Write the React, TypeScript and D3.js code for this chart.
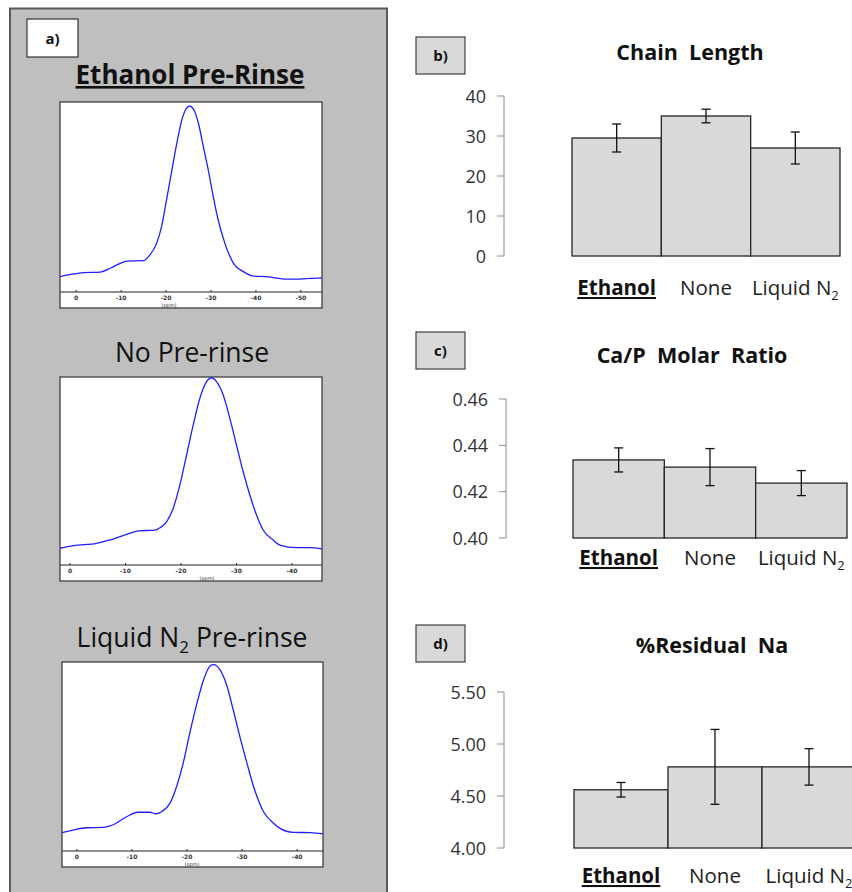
import React from 'react';
import * as d3 from 'd3';

// bar chart data
const categories = ['Ethanol', 'None', 'Liquid N2'];
const chainLength = [29.5, 35.0, 27.0];
const chainErr = [3.5, 1.7, 4.0];
const chainTicks = [0, 10, 20, 30, 40];
const caPRatio = [0.4337, 0.4306, 0.4237];
const caPErr = [0.0052, 0.008, 0.0054];
const caPTicks = [0.4, 0.42, 0.44, 0.46];
const residualNa = [4.56, 4.78, 4.78];
const naErr = [0.07, 0.36, 0.175];
const naTicks = [4.0, 4.5, 5.0, 5.5];

// 31P NMR spectra (ppm, relative intensity in % of plot height)
const spec1Ppm = [3.6, 0.6, -1.6, -5.3, -7.6, -9.8, -11.3, -15, -16.4, -17.9, -19, -20.1, -21.3, -22.4, -23.5, -24.4, -25.2, -26.1, -27.2, -28.3, -29.4, -30.5, -31.6, -33.1, -35, -37.2, -39.4, -42.4, -46.8, -49.8, -52, -55];
const spec1Int = [8.1, 9.5, 10.2, 10.5, 12.5, 15.1, 16.3, 16.5, 19.5, 25.6, 34.4, 48.4, 64.2, 78.3, 90.5, 96.2, 97.9, 96.2, 88.8, 76.5, 64.2, 50.2, 37.9, 25.6, 15.1, 10.7, 8.4, 8.1, 6.8, 6.8, 7.2, 7.5];
const spec1Ticks = [0, -10, -20, -30, -40, -50];

const spec2Ppm = [1.8, -0.6, -4.8, -7.2, -10.2, -12.3, -15.3, -16.2, -17.4, -18.6, -19.8, -21, -22.2, -23.4, -24.6, -25.5, -26.4, -27.6, -28.8, -30, -31.2, -32.4, -33.6, -34.8, -36.6, -37.8, -40.8, -43.2, -45.6];
const spec2Int = [8.9, 10.3, 11.5, 13.3, 16.3, 18.2, 18.5, 19.8, 23.0, 30.2, 42.6, 58.5, 74.5, 88.7, 97.5, 99.6, 97.5, 90.4, 78.0, 63.8, 49.6, 37.2, 26.6, 18.6, 13.3, 10.6, 9.2, 9.2, 8.5];
const spec2Ticks = [0, -10, -20, -30, -40];

const spec3Ppm = [3.1, 0.7, -1.8, -4.8, -6.6, -9.0, -11.1, -13.3, -14.2, -15.4, -16.9, -18.1, -19.3, -20.5, -21.8, -23.0, -24.2, -24.9, -26.0, -27.2, -28.4, -29.6, -30.9, -32.1, -33.9, -35.7, -36.9, -39.3, -42.4, -44.8];
const spec3Int = [9.4, 11.1, 12.3, 12.5, 13.9, 18.1, 20.5, 20.5, 19.7, 20.8, 25.2, 34.0, 46.4, 62.3, 78.1, 90.5, 97.9, 98.6, 95.8, 87.8, 74.6, 60.5, 46.4, 34.0, 20.8, 14.7, 12.0, 9.9, 9.7, 9.0];
const spec3Ticks = [0, -10, -20, -30, -40];

const FONT = '"Open Sans", Lato, sans-serif';

const Spectrum = ({ ppm, inten, ticks, domain, x0, x1, top, axisY, bottom, ppmLabelX }) => {
    const x = d3.scaleLinear().domain(domain).range([x0, x1]);
    const y = d3.scaleLinear().domain([0, 100]).range([axisY, top]);
    const line = d3.line()
        .x((d) => x(d[0]))
        .y((d) => y(d[1]))
        .curve(d3.curveMonotoneX);
    const pts = ppm.map((p, i) => [p, inten[i]]);
    return (
        <g>
            <rect x={x0} y={top} width={x1 - x0} height={bottom - top} fill="#fff" stroke="#333" strokeWidth={1.2} />
            <clipPath id={`clip${top}`}>
                <rect x={x0} y={top} width={x1 - x0} height={axisY - top} />
            </clipPath>
            <path d={line(pts)} fill="none" stroke="#1f1fff" strokeWidth={1.3} clipPath={`url(#clip${top})`} />
            <line x1={x0} x2={x1} y1={axisY} y2={axisY} stroke="#222" strokeWidth={1.2} />
            {ticks.map((t) => (
                <g key={t}>
                    <line x1={x(t)} x2={x(t)} y1={axisY} y2={axisY - 2} stroke="#222" strokeWidth={1} />
                    <text x={x(t)} y={axisY + 7.5} fontSize={6} fontWeight="bold" fontFamily="DejaVu Sans, sans-serif" textAnchor="middle" fill="#333">{t}</text>
                </g>
            ))}
            <text x={ppmLabelX} y={axisY + 14.5} fontSize={5} fontFamily="DejaVu Sans, sans-serif" textAnchor="middle" fill="#333">(ppm)</text>
        </g>
    );
};

const CatLabel = ({ name, x, y }) => {
    if (name === 'Ethanol') {
        return (
            <text x={x} y={y} fontSize={20.5} fontWeight="bold" textAnchor="middle" fill="#111" style={{ textDecoration: 'underline' }}>{name}</text>
        );
    }
    if (name === 'Liquid N2') {
        return (
            <text x={x} y={y} fontSize={20.5} textAnchor="middle" fill="#222">
                Liquid N<tspan fontSize={13} dy={5}>2</tspan>
            </text>
        );
    }
    return <text x={x} y={y} fontSize={20.5} textAnchor="middle" fill="#222">{name}</text>;
};

const BarPanel = ({ label, labelY, title, titleX, titleY, values, errors, ticks, fmt, domain, bx0, bx1, yTop, yBottom, axisX, catY }) => {
    const x = d3.scaleBand().domain(categories).range([bx0, bx1]).padding(0);
    const y = d3.scaleLinear().domain(domain).range([yBottom, yTop]);
    return (
        <g fontFamily={FONT}>
            <rect x={416} y={labelY} width={49} height={37} fill="#d9d9d9" stroke="#404040" strokeWidth={1.2} />
            <text x={440.5} y={labelY + 24} fontSize={15} fontWeight="bold" textAnchor="middle" fill="#111">{label}</text>
            <text x={titleX} y={titleY} fontSize={21.5} fontWeight="bold" textAnchor="middle" fill="#111" style={{ whiteSpace: 'pre' }}>{title}</text>
            <line x1={axisX} x2={axisX} y1={y(domain[0])} y2={y(domain[1])} stroke="#8c8c8c" strokeWidth={1} />
            {ticks.map((t) => (
                <g key={t}>
                    <line x1={axisX - 7} x2={axisX} y1={y(t)} y2={y(t)} stroke="#8c8c8c" strokeWidth={1} />
                    <text x={axisX - 18} y={y(t) + 6.5} fontSize={18} textAnchor="end" fill="#333">{fmt(t)}</text>
                </g>
            ))}
            {categories.map((c, i) => (
                <rect key={c} x={x(c)} y={y(values[i])} width={x.bandwidth()} height={y(domain[0]) - y(values[i])}
                    fill="#d9d9d9" stroke="#262626" strokeWidth={1.3} />
            ))}
            {categories.map((c, i) => {
                const cx = x(c) + x.bandwidth() / 2;
                const hi = y(values[i] + errors[i]);
                const lo = y(values[i] - errors[i]);
                return (
                    <g key={c} stroke="#111" strokeWidth={1.3}>
                        <line x1={cx} x2={cx} y1={hi} y2={lo} />
                        <line x1={cx - 4.5} x2={cx + 4.5} y1={hi} y2={hi} />
                        <line x1={cx - 4.5} x2={cx + 4.5} y1={lo} y2={lo} />
                    </g>
                );
            })}
            {categories.map((c) => (
                <CatLabel key={c} name={c} x={x(c) + x.bandwidth() / 2} y={catY} />
            ))}
        </g>
    );
};

const App = () => {
    const f0 = d3.format('d');
    const f2 = d3.format('.2f');
    return (
        <svg width={852} height={892} style={{ position: 'absolute', left: 0, top: 0, background: '#fff' }}>
            {/* panel a */}
            <rect x={10} y={8.5} width={377} height={900} fill="#bfbfbf" stroke="#5a5a5a" strokeWidth={2} />
            <rect x={27} y={19} width={51} height={38} fill="#fff" stroke="#333" strokeWidth={1.2} />
            <text x={52.5} y={44} fontSize={15} fontWeight="bold" fontFamily={FONT} textAnchor="middle" fill="#111">a)</text>
            <text x={190} y={84} fontSize={26} fontWeight="bold" fontFamily={FONT} textAnchor="middle" fill="#111" style={{ textDecoration: 'underline' }}>Ethanol Pre-Rinse</text>
            <Spectrum ppm={spec1Ppm} inten={spec1Int} ticks={spec1Ticks} domain={[3.6, -54.7]} x0={60} x1={322} top={102} axisY={292} bottom={308} ppmLabelX={169} />
            <text x={192} y={362} fontSize={26.5} fontFamily={FONT} textAnchor="middle" fill="#111">No Pre-rinse</text>
            <Spectrum ppm={spec2Ppm} inten={spec2Int} ticks={spec2Ticks} domain={[1.8, -45.4]} x0={60} x1={322} top={377} axisY={565} bottom={581} ppmLabelX={207} />
            <text x={192} y={647} fontSize={26.5} fontFamily={FONT} textAnchor="middle" fill="#111">
                Liquid N<tspan fontSize={17} dy={6}>2</tspan><tspan dy={-6}> Pre-rinse</tspan>
            </text>
            <Spectrum ppm={spec3Ppm} inten={spec3Int} ticks={spec3Ticks} domain={[2.7, -44.7]} x0={62} x1={323} top={662} axisY={851} bottom={867} ppmLabelX={192} />

            {/* panel b */}
            <BarPanel label="b)" labelY={37} title="Chain  Length" titleX={690} titleY={60}
                values={chainLength} errors={chainErr} ticks={chainTicks} fmt={f0} domain={[0, 40]}
                bx0={572} bx1={840} yTop={96} yBottom={256} axisX={504} catY={295} />
            {/* panel c */}
            <BarPanel label="c)" labelY={332} title="Ca/P  Molar  Ratio" titleX={692} titleY={363}
                values={caPRatio} errors={caPErr} ticks={caPTicks} fmt={f2} domain={[0.4, 0.46]}
                bx0={573} bx1={847} yTop={399} yBottom={538} axisX={506} catY={565} />
            {/* panel d */}
            <BarPanel label="d)" labelY={625} title="%Residual  Na" titleX={712} titleY={653}
                values={residualNa} errors={naErr} ticks={naTicks} fmt={f2} domain={[4.0, 5.5]}
                bx0={574} bx1={856} yTop={692} yBottom={848} axisX={504} catY={883} />
        </svg>
    );
};

export default App;
